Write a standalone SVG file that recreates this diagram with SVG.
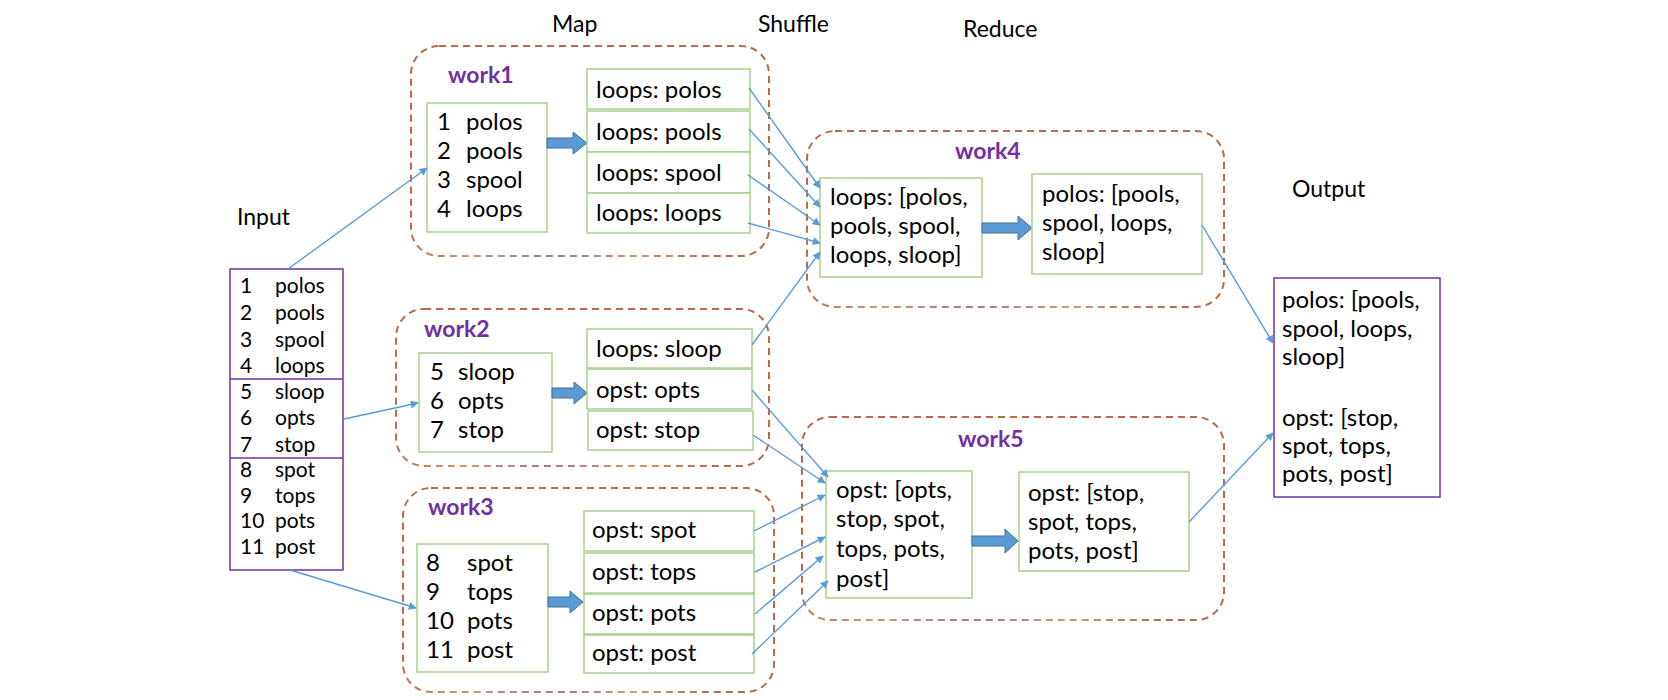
<svg xmlns="http://www.w3.org/2000/svg" width="1668" height="700" viewBox="0 0 1668 700">
<style>
text{font-family:Lato,"Liberation Sans",sans-serif;fill:#000}
.t{font-size:24px}
.s{font-size:21px}
.h{font-size:23px}
.w{font-size:23px;font-weight:bold;fill:#7030A0}
.g{fill:#fff;stroke:#A9D18E;stroke-width:1.5}
.pb{fill:#fff;stroke:#7030A0;stroke-width:1.5}
.c{fill:none;stroke:url(#dg);stroke-width:2;stroke-dasharray:7 5}
.ba{fill:#5B9BD5;stroke:#41719C;stroke-width:1}
.ln{fill:none;stroke:#5B9BD5;stroke-width:1.4;marker-end:url(#ah)}
</style>
<defs>
<radialGradient id="dg" cx="0.4" cy="1" r="0.45">
<stop offset="0" stop-color="#A870A8"/>
<stop offset="0.5" stop-color="#D4966E"/>
<stop offset="1" stop-color="#B86A4A"/>
</radialGradient>
<marker id="ah" viewBox="0 0 10 10" refX="9" refY="5" markerWidth="9" markerHeight="8" markerUnits="userSpaceOnUse" orient="auto">
<path d="M0,0 L10,5 L0,10 z" fill="#5B9BD5"/>
</marker>
</defs>
<rect width="1668" height="700" fill="#fff"/>

<g id="labels">
<text class="h" x="552" y="32">Map</text>
<text class="h" x="758" y="32">Shuffle</text>
<text class="h" x="963" y="37">Reduce</text>
<text class="h" x="237" y="225">Input</text>
<text class="h" x="1292" y="197">Output</text>
</g>

<g id="input">
<rect class="pb" x="230" y="269" width="113" height="301"/>
<line x1="230" y1="379" x2="343" y2="379" stroke="#7030A0" stroke-width="1.5"/>
<line x1="230" y1="458" x2="343" y2="458" stroke="#7030A0" stroke-width="1.5"/>
<g class="s">
<text x="240" y="293">1</text><text x="275" y="293">polos</text>
<text x="240" y="320">2</text><text x="275" y="320">pools</text>
<text x="240" y="347">3</text><text x="275" y="347">spool</text>
<text x="240" y="373">4</text><text x="275" y="373">loops</text>
<text x="240" y="399">5</text><text x="275" y="399">sloop</text>
<text x="240" y="425">6</text><text x="275" y="425">opts</text>
<text x="240" y="452">7</text><text x="275" y="452">stop</text>
<text x="240" y="477">8</text><text x="275" y="477">spot</text>
<text x="240" y="503">9</text><text x="275" y="503">tops</text>
<text x="240" y="528">10</text><text x="275" y="528">pots</text>
<text x="240" y="554">11</text><text x="275" y="554">post</text>
</g>
</g>

<g id="work1">
<rect class="c" x="411" y="46" width="358" height="210" rx="28"/>
<text class="w" x="448" y="83">work1</text>
<rect class="g" x="427" y="103" width="120" height="129"/>
<g class="t">
<text x="437" y="130">1</text><text x="466" y="130">polos</text>
<text x="437" y="159">2</text><text x="466" y="159">pools</text>
<text x="437" y="188">3</text><text x="466" y="188">spool</text>
<text x="437" y="217">4</text><text x="466" y="217">loops</text>
</g>
<polygon class="ba" points="547,138 573,138 573,132 587,143 573,154 573,148 547,148"/>
<rect class="g" x="587" y="69" width="163" height="40"/>
<rect class="g" x="587" y="111" width="163" height="41"/>
<rect class="g" x="587" y="152" width="163" height="41"/>
<rect class="g" x="587" y="193" width="163" height="40"/>
<g class="t">
<text x="596" y="98">loops: polos</text>
<text x="596" y="140">loops: pools</text>
<text x="596" y="181">loops: spool</text>
<text x="596" y="221">loops: loops</text>
</g>
</g>

<g id="work2">
<rect class="c" x="396" y="309" width="373" height="157" rx="28"/>
<text class="w" x="424" y="337">work2</text>
<rect class="g" x="419" y="353" width="133" height="99"/>
<g class="t">
<text x="430" y="380">5</text><text x="458" y="380">sloop</text>
<text x="430" y="409">6</text><text x="458" y="409">opts</text>
<text x="430" y="438">7</text><text x="458" y="438">stop</text>
</g>
<polygon class="ba" points="552,388 574,388 574,382 587,393 574,404 574,398 552,398"/>
<rect class="g" x="587" y="329" width="165" height="39"/>
<rect class="g" x="587" y="369" width="165" height="40"/>
<rect class="g" x="588" y="411" width="165" height="39"/>
<g class="t">
<text x="596" y="357">loops: sloop</text>
<text x="596" y="398">opst: opts</text>
<text x="596" y="438">opst: stop</text>
</g>
</g>

<g id="work3">
<rect class="c" x="403" y="488" width="371" height="204" rx="28"/>
<text class="w" x="428" y="515">work3</text>
<rect class="g" x="417" y="544" width="131" height="128"/>
<g class="t">
<text x="426" y="571">8</text><text x="467" y="571">spot</text>
<text x="426" y="600">9</text><text x="467" y="600">tops</text>
<text x="426" y="629">10</text><text x="467" y="629">pots</text>
<text x="426" y="658">11</text><text x="467" y="658">post</text>
</g>
<polygon class="ba" points="548,597 570,597 570,591 583,602 570,613 570,607 548,607"/>
<rect class="g" x="584" y="511" width="170" height="40"/>
<rect class="g" x="584" y="553" width="170" height="40"/>
<rect class="g" x="584" y="594" width="170" height="40"/>
<rect class="g" x="584" y="635" width="170" height="38"/>
<g class="t">
<text x="592" y="538">opst: spot</text>
<text x="592" y="580">opst: tops</text>
<text x="592" y="621">opst: pots</text>
<text x="592" y="661">opst: post</text>
</g>
</g>

<g id="work4">
<rect class="c" x="807" y="131" width="417" height="176" rx="28"/>
<text class="w" x="955" y="159">work4</text>
<rect class="g" x="820" y="178" width="162" height="99"/>
<g class="t">
<text x="830" y="205">loops: [polos,</text>
<text x="830" y="234">pools, spool,</text>
<text x="830" y="263">loops, sloop]</text>
</g>
<polygon class="ba" points="982,223 1018,223 1018,216 1032,228 1018,240 1018,233 982,233"/>
<rect class="g" x="1032" y="174" width="170" height="100"/>
<g class="t">
<text x="1042" y="202">polos: [pools,</text>
<text x="1042" y="231">spool, loops,</text>
<text x="1042" y="260">sloop]</text>
</g>
</g>

<g id="work5">
<rect class="c" x="802" y="417" width="422" height="203" rx="28"/>
<text class="w" x="958" y="447">work5</text>
<rect class="g" x="826" y="471" width="146" height="127"/>
<g class="t">
<text x="836" y="498">opst: [opts,</text>
<text x="836" y="527">stop, spot,</text>
<text x="836" y="557">tops, pots,</text>
<text x="836" y="587">post]</text>
</g>
<polygon class="ba" points="972,536 1005,536 1005,529 1018,541 1005,553 1005,546 972,546"/>
<rect class="g" x="1019" y="472" width="170" height="99"/>
<g class="t">
<text x="1028" y="501">opst: [stop,</text>
<text x="1028" y="530">spot, tops,</text>
<text x="1028" y="559">pots, post]</text>
</g>
</g>

<g id="output">
<rect class="pb" x="1274" y="278" width="166" height="219"/>
<g class="t">
<text x="1282" y="308">polos: [pools,</text>
<text x="1282" y="337">spool, loops,</text>
<text x="1282" y="365">sloop]</text>
<text x="1282" y="426">opst: [stop,</text>
<text x="1282" y="454">spot, tops,</text>
<text x="1282" y="482">pots, post]</text>
</g>
</g>

<g id="connectors">
<line class="ln" x1="288" y1="269" x2="427" y2="168"/>
<line class="ln" x1="344" y1="419" x2="418" y2="403"/>
<line class="ln" x1="290" y1="570" x2="416" y2="608"/>
<line class="ln" x1="749" y1="88" x2="820" y2="188"/>
<line class="ln" x1="749" y1="129" x2="820" y2="207"/>
<line class="ln" x1="748" y1="175" x2="820" y2="225"/>
<line class="ln" x1="748" y1="223" x2="820" y2="243"/>
<line class="ln" x1="752" y1="345" x2="820" y2="252"/>
<line class="ln" x1="752" y1="390" x2="828" y2="477"/>
<line class="ln" x1="753" y1="435" x2="825" y2="483"/>
<line class="ln" x1="754" y1="531" x2="825" y2="495"/>
<line class="ln" x1="755" y1="572" x2="825" y2="537"/>
<line class="ln" x1="755" y1="614" x2="823" y2="556"/>
<line class="ln" x1="752" y1="654" x2="828" y2="581"/>
<line class="ln" x1="1202" y1="225" x2="1273" y2="343"/>
<line class="ln" x1="1189" y1="522" x2="1273" y2="433"/>
</g>
</svg>
